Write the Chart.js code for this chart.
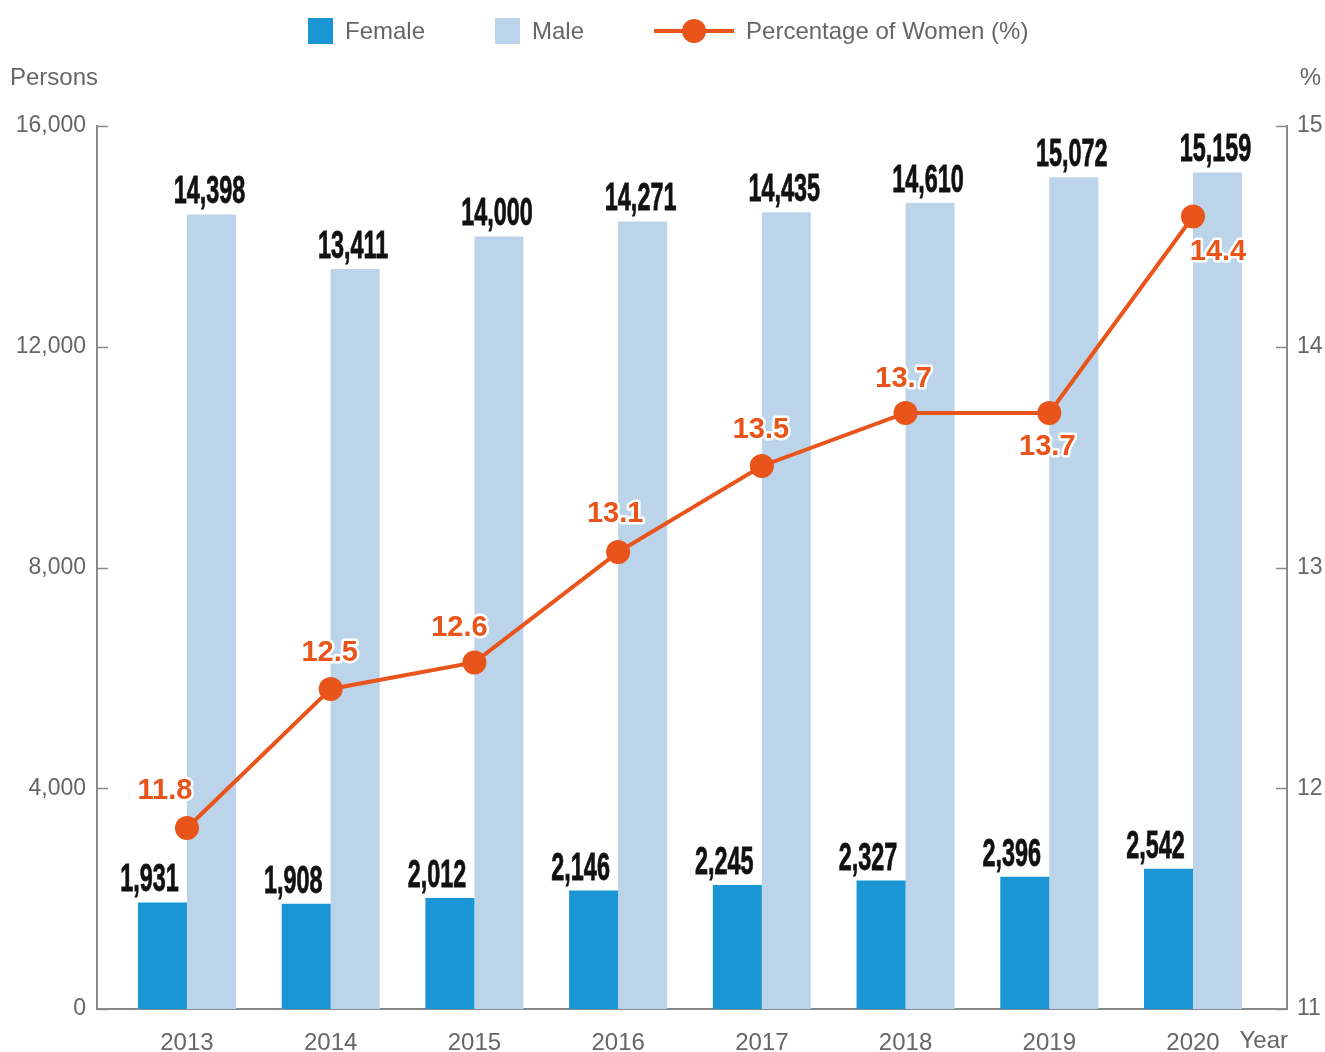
<!DOCTYPE html>
<html>
<head>
<meta charset="utf-8">
<script src="https://cdn.jsdelivr.net/npm/chart.js@4.4.1/dist/chart.umd.min.js"></script>
<style>
  html, body { margin: 0; padding: 0; background: #fff; }
  #chart { display: block; }
</style>
</head>
<body>
<canvas id="chart" width="1325" height="1052"></canvas>
<script>
const years = ["2013", "2014", "2015", "2016", "2017", "2018", "2019", "2020"];
const female = [1931, 1908, 2012, 2146, 2245, 2327, 2396, 2542];
const male = [14398, 13411, 14000, 14271, 14435, 14610, 15072, 15159];
// plotted position of each marker, and the label printed next to it
const womenPct = [11.82, 12.45, 12.57, 13.07, 13.46, 13.7, 13.7, 14.59];
const womenPctLabels = ["11.8", "12.5", "12.6", "13.1", "13.5", "13.7", "13.7", "14.4"];

const FEMALE_COLOR = "#1b96d4";
const MALE_COLOR = "#bcd4e9";
const LINE_COLOR = "#e8541a";
const TEXT_GRAY = "#666666";
const AXIS_GRAY = "#888888";
const FONT = "'Liberation Sans', Arial, sans-serif";

// where each percentage label sits relative to its marker
const pctLabelOffsets = [[-22, -37], [-1, -36], [-15, -34], [-3, -38], [-1, -36], [-2, -34], [-2, 34], [25, 35]];

const toPoints = (arr) => arr.map((v, i) => ({ x: i, y: v }));

const innerTicks = {
  id: "innerTicks",
  afterDraw(chart) {
    const { ctx, chartArea } = chart;
    ctx.save();
    ctx.strokeStyle = AXIS_GRAY;
    ctx.lineWidth = 1.5;
    ["y", "y1"].forEach((id) => {
      const scale = chart.scales[id];
      scale.ticks.forEach((t) => {
        const py = Math.round(scale.getPixelForValue(t.value)) + 0.5;
        ctx.beginPath();
        if (id === "y") {
          ctx.moveTo(chartArea.left, py);
          ctx.lineTo(chartArea.left + 11, py);
        } else {
          ctx.moveTo(chartArea.right - 11, py);
          ctx.lineTo(chartArea.right, py);
        }
        ctx.stroke();
      });
    });
    ctx.restore();
  },
};

const valueLabels = {
  id: "valueLabels",
  afterDatasetsDraw(chart) {
    const ctx = chart.ctx;
    // bar totals in a narrow bold face
    [0, 1].forEach((di) => {
      const meta = chart.getDatasetMeta(di);
      const values = di === 0 ? female : male;
      meta.data.forEach((bar, i) => {
        ctx.save();
        ctx.translate(bar.x + (di === 0 ? -13 : -2), bar.y - 11);
        ctx.scale(0.6, 1);
        ctx.font = "bold 39px " + FONT;
        ctx.textAlign = "center";
        ctx.textBaseline = "alphabetic";
        ctx.fillStyle = "#111";
        ctx.strokeStyle = "#111";
        ctx.lineWidth = 0.8;
        const txt = values[i].toLocaleString("en-US");
        ctx.fillText(txt, 0, 0);
        ctx.strokeText(txt, 0, 0);
        ctx.restore();
      });
    });
    // percentage labels with white outline
    const lineMeta = chart.getDatasetMeta(2);
    ctx.save();
    ctx.font = "bold 29px " + FONT;
    ctx.textAlign = "center";
    ctx.textBaseline = "middle";
    ctx.lineJoin = "round";
    lineMeta.data.forEach((pt, i) => {
      const [dx, dy] = pctLabelOffsets[i];
      ctx.strokeStyle = "#fff";
      ctx.lineWidth = 5;
      ctx.strokeText(womenPctLabels[i], pt.x + dx, pt.y + dy);
      ctx.fillStyle = LINE_COLOR;
      ctx.fillText(womenPctLabels[i], pt.x + dx, pt.y + dy);
    });
    ctx.restore();
  },
};

const extraText = {
  id: "extraText",
  afterDraw(chart) {
    const { ctx, chartArea } = chart;
    ctx.save();
    ctx.font = "24px " + FONT;
    ctx.fillStyle = TEXT_GRAY;
    ctx.textBaseline = "middle";
    ctx.textAlign = "left";
    ctx.fillText("Persons", 10, 78);
    ctx.textAlign = "right";
    ctx.fillText("%", 1321, 78);
    ctx.fillText("Year", chartArea.right + 1, 1041);

    // legend
    const items = [
      { label: "Female", kind: "box", color: FEMALE_COLOR },
      { label: "Male", kind: "box", color: MALE_COLOR },
      { label: "Percentage of Women (%)", kind: "line", color: LINE_COLOR },
    ];
    let x = 308;
    const cy = 31;
    ctx.textAlign = "left";
    items.forEach((it) => {
      if (it.kind === "box") {
        ctx.fillStyle = it.color;
        ctx.fillRect(x, cy - 13, 25, 26);
        x += 37;
      } else {
        ctx.strokeStyle = it.color;
        ctx.lineWidth = 4;
        ctx.beginPath();
        ctx.moveTo(x, cy);
        ctx.lineTo(x + 80, cy);
        ctx.stroke();
        ctx.fillStyle = it.color;
        ctx.beginPath();
        ctx.arc(x + 40, cy, 12, 0, Math.PI * 2);
        ctx.fill();
        x += 92;
      }
      ctx.fillStyle = TEXT_GRAY;
      ctx.fillText(it.label, x, cy + 1);
      x += ctx.measureText(it.label).width + 70;
    });
    ctx.restore();
  },
};

new Chart(document.getElementById("chart"), {
  data: {
    datasets: [
      {
        type: "bar",
        label: "Female",
        data: toPoints(female),
        backgroundColor: FEMALE_COLOR,
        yAxisID: "y",
        order: 1,
      },
      {
        type: "bar",
        label: "Male",
        data: toPoints(male),
        backgroundColor: MALE_COLOR,
        yAxisID: "y",
        order: 1,
      },
      {
        type: "line",
        label: "Percentage of Women (%)",
        data: toPoints(womenPct),
        borderColor: LINE_COLOR,
        backgroundColor: LINE_COLOR,
        borderWidth: 4,
        pointRadius: 12,
        pointBorderWidth: 0,
        tension: 0,
        yAxisID: "y1",
        order: 0,
      },
    ],
  },
  options: {
    responsive: false,
    animation: false,
    devicePixelRatio: 1,
    layout: { padding: { top: 126, left: 0, right: 0, bottom: 0 } },
    datasets: {
      bar: { categoryPercentage: 0.682, barPercentage: 1 },
    },
    plugins: {
      legend: { display: false },
      tooltip: { enabled: false },
    },
    scales: {
      x: {
        type: "linear",
        offset: false,
        min: -0.626,
        max: 7.654,
        afterBuildTicks: (scale) => {
          scale.ticks = years.map((_, i) => ({ value: i }));
        },
        afterFit: (scale) => {
          scale.height = 43;
        },
        ticks: {
          callback: (v) => years[v],
          color: TEXT_GRAY,
          font: { size: 24, family: FONT },
          padding: 20,
          autoSkip: false,
          maxRotation: 0,
        },
        grid: { display: false, drawTicks: false, offset: false },
        border: { color: AXIS_GRAY, width: 2 },
      },
      y: {
        position: "left",
        min: 0,
        max: 16000,
        afterFit: (scale) => {
          scale.width = 97;
        },
        ticks: {
          stepSize: 4000,
          color: TEXT_GRAY,
          font: { size: 23, family: FONT },
          padding: 11,
        },
        grid: { display: false, drawTicks: false },
        border: { color: AXIS_GRAY, width: 2 },
      },
      y1: {
        position: "right",
        min: 11,
        max: 15,
        afterFit: (scale) => {
          scale.width = 38;
        },
        ticks: {
          stepSize: 1,
          color: TEXT_GRAY,
          font: { size: 23, family: FONT },
          padding: 10,
        },
        grid: { display: false, drawTicks: false },
        border: { color: AXIS_GRAY, width: 2 },
      },
    },
  },
  plugins: [innerTicks, valueLabels, extraText],
});
</script>
</body>
</html>
